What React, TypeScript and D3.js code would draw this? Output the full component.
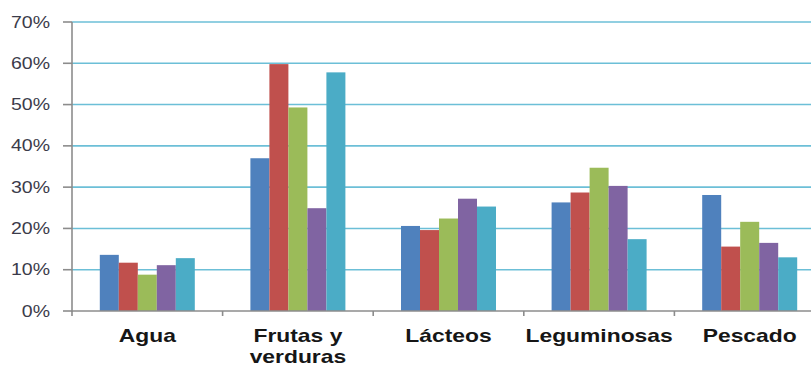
import React from "react";
import * as d3 from "d3";

const categories = ["Agua", "Frutas y\nverduras", "Lácteos", "Leguminosas", "Pescado"];
const seriesKeys = ["s1", "s2", "s3", "s4", "s5"];
const seriesColors = ["#4F81BD", "#C0504D", "#9BBB59", "#8064A2", "#4BACC6"];

// percent values per category, one row per series
const s1 = [13.6, 37.0, 20.6, 26.3, 28.1];
const s2 = [11.7, 59.8, 19.6, 28.7, 15.6];
const s3 = [8.8, 49.3, 22.4, 34.7, 21.6];
const s4 = [11.1, 24.9, 27.2, 30.3, 16.5];
const s5 = [12.8, 57.8, 25.3, 17.4, 13.0];
const seriesValues = [s1, s2, s3, s4, s5];

const yTicks = [0, 10, 20, 30, 40, 50, 60, 70];

const W = 811;
const H = 365;
const left = 72;
const bandW = 150.6;
const top = 22;
const bottom = 311;
const groupW = 95;

export default function App() {
  const x0 = d3
    .scaleBand<string>()
    .domain(categories)
    .range([left, left + bandW * categories.length])
    .padding(0);
  const x1 = d3
    .scaleBand<string>()
    .domain(seriesKeys)
    .range([(bandW - groupW) / 2, (bandW + groupW) / 2])
    .padding(0);
  const y = d3.scaleLinear().domain([0, 70]).range([bottom, top]);

  const sxY = 1.22;
  const sxC = 1.27;

  return (
    <svg
      width={W}
      height={H}
      style={{ position: "fixed", left: 0, top: 0, display: "block", background: "#fff" }}
    >
      {/* gridlines */}
      {yTicks
        .filter((t) => t > 0)
        .map((t) => (
          <line key={"g" + t} x1={left} x2={W} y1={y(t)} y2={y(t)} stroke="#6CBFD7" strokeWidth={1.6} />
        ))}

      {/* bars */}
      {categories.map((c, ci) => (
        <g key={c} transform={`translate(${x0(c)},0)`}>
          {seriesKeys.map((k, si) => {
            const v = seriesValues[si][ci];
            return (
              <rect
                key={k}
                x={x1(k)}
                y={y(v)}
                width={x1.bandwidth()}
                height={y(0) - y(v)}
                fill={seriesColors[si]}
              />
            );
          })}
        </g>
      ))}

      {/* y axis */}
      <line x1={left} x2={left} y1={top} y2={bottom + 1} stroke="#8C8C8C" strokeWidth={1.6} />
      {yTicks.map((t) => (
        <g key={"t" + t}>
          <line x1={left - 9} x2={left} y1={y(t)} y2={y(t)} stroke="#8C8C8C" strokeWidth={1.6} />
          <text
            transform={`translate(50,${y(t) + 5.5}) scale(${sxY},1)`}
            textAnchor="end"
            fontFamily="'Liberation Sans', Arial, sans-serif"
            fontSize={16}
            fill="#3B3B4A"
          >
            {`${t}%`}
          </text>
        </g>
      ))}

      {/* x axis */}
      <line x1={left} x2={W} y1={bottom} y2={bottom} stroke="#8C8C8C" strokeWidth={1.6} />
      {categories.map((c, i) => (
        <line
          key={"xt" + i}
          x1={x0(c)! + (i === 0 ? 0 : 0)}
          x2={x0(c)!}
          y1={bottom}
          y2={bottom + 5}
          stroke="#8C8C8C"
          strokeWidth={1.6}
        />
      ))}
      {categories.map((c) => {
        const cx = x0(c)! + bandW / 2;
        const lines = c.split("\n");
        return (
          <g key={"l" + c}>
            {lines.map((ln, li) => (
              <text
                key={li}
                transform={`translate(${cx},${341.5 + li * 21.5}) scale(${sxC},1)`}
                textAnchor="middle"
                fontFamily="'Liberation Sans', Arial, sans-serif"
                fontWeight="bold"
                fontSize={18}
                fill="#161616"
              >
                {ln}
              </text>
            ))}
          </g>
        );
      })}
    </svg>
  );
}
